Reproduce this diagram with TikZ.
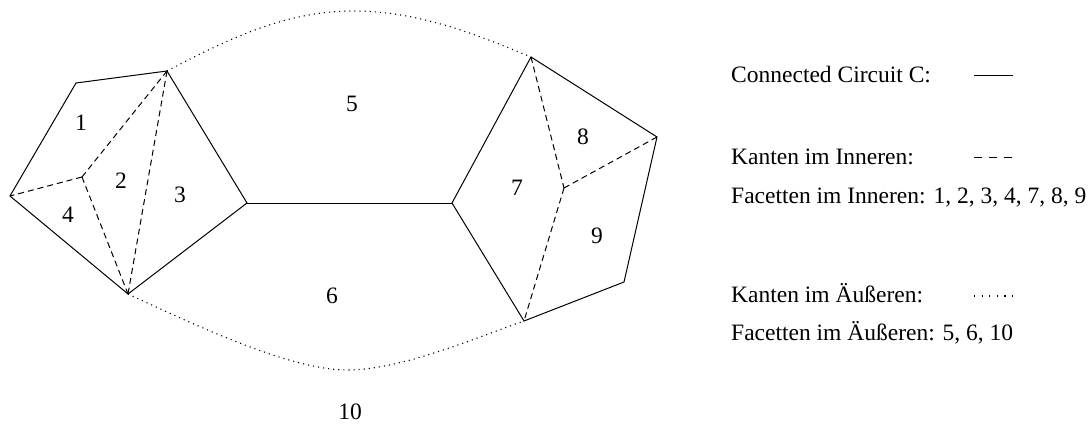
\documentclass[tikz,border=0pt]{standalone}
\usepackage{fontspec}
\setmainfont{Liberation Serif}
\begin{document}
\begin{tikzpicture}[x=1pt,y=-1pt,
  circuit/.style={line width=1pt},
  inner/.style={line width=1pt,dash pattern=on 6pt off 4pt},
  outer/.style={line width=1.1pt,dash pattern=on 1.1pt off 4pt},
  facelabel/.style={inner sep=0pt,font=\fontsize{23.5}{28}\selectfont},
  legendtext/.style={anchor=base west,inner sep=0pt,font=\fontsize{23.5}{28}\selectfont}]
\useasboundingbox (0,0) rectangle (1091,425);
% left polygon
\coordinate (A) at (76,83);
\coordinate (B) at (167,71);
\coordinate (C) at (247,203);
\coordinate (D) at (128,294);
\coordinate (E) at (10,196);
\coordinate (F) at (82,177);
% right polygon
\coordinate (G) at (452,203);
\coordinate (H) at (531,57);
\coordinate (I) at (657,137);
\coordinate (J) at (624,282);
\coordinate (K) at (524,321);
\coordinate (L) at (564,188);
% solid circuit edges
\draw[circuit] (E) -- (A) -- (B) -- (C) -- (D) -- cycle;
\draw[circuit] (C) -- (G);
\draw[circuit] (G) -- (H) -- (I) -- (J) -- (K) -- cycle;
% inner dashed edges
\draw[inner] (F) -- (B);
\draw[inner] (F) -- (E);
\draw[inner] (F) -- (D);
\draw[inner] (B) -- (D);
\draw[inner] (H) -- (L);
\draw[inner] (L) -- (I);
\draw[inner] (L) -- (K);
% outer dotted edges
\draw[outer] (B) .. controls (235,35) and (290,11) .. (353,11)
                 .. controls (420,11) and (480,36) .. (H);
\draw[outer] (D) .. controls (195,325) and (290,370) .. (347,370)
                 .. controls (400,370) and (470,340) .. (K);
% face labels
\node[facelabel] (f1) at (81,123) {1};
\node[facelabel] (f2) at (121,181) {2};
\node[facelabel] (f3) at (180,195) {3};
\node[facelabel] (f4) at (68,215) {4};
\node[facelabel] (f5) at (352,104) {5};
\node[facelabel] (f6) at (332,296) {6};
\node[facelabel] (f7) at (517,188) {7};
\node[facelabel] (f8) at (583,137) {8};
\node[facelabel] (f9) at (597,236) {9};
\node[facelabel] (f10) at (350,412) {10};
% legend
\node[legendtext] (l1) at (731,83) {Connected Circuit C:};
\node[legendtext] (l2) at (731,164) {Kanten im Inneren:};
\node[legendtext] (l3) at (731,203) {Facetten im Inneren: 1, 2, 3, 4, 7, 8, 9};
\node[legendtext] (l4) at (731,302) {Kanten im Äußeren:};
\node[legendtext] (l5) at (731,340) {Facetten im Äußeren: 5, 6, 10};
\coordinate (s1) at (974,76); \coordinate (s2) at (1013,76);
\coordinate (d1) at (974,157); \coordinate (d2) at (1014,157);
\coordinate (o1) at (974,296); \coordinate (o2) at (1014,296);
\draw[circuit] (s1) -- (s2);
\draw[line width=1pt,dash pattern=on 8pt off 7pt] (d1) -- (d2);
\draw[line width=1.1pt,dash pattern=on 1.1pt off 6.5pt] (o1) -- (o2);
\end{tikzpicture}
\end{document}
